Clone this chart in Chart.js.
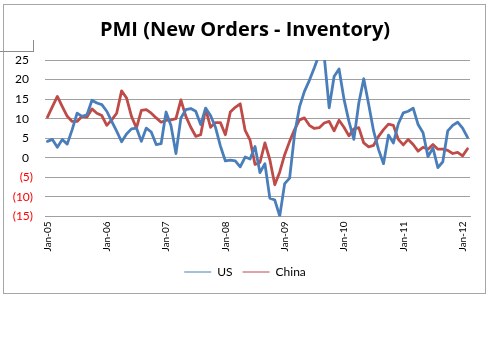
<!DOCTYPE html>
<html>
<head>
<meta charset="utf-8">
<script src="https://cdn.jsdelivr.net/npm/chart.js@4"></script>
<style>
  html, body { margin: 0; padding: 0; background: #fff; }
  #wrap { position: relative; width: 490px; height: 337px; }
  #frame { position: absolute; left: 3px; top: 4px; width: 481px; height: 288px; border: 1px solid #a6a6a6; }
  #mark { position: absolute; left: 0; top: 40px; width: 33px; height: 11px; border-right: 1px solid #8c8c8c; border-bottom: 1px solid #8c8c8c; }
  canvas { position: absolute; left: 0; top: 0; }
</style>
</head>
<body>
<div id="wrap">
  <div id="frame"></div>
  <div id="mark"></div>
  <canvas id="pmiChart" width="490" height="337"></canvas>
</div>
<script>
const months = ['Jan','Feb','Mar','Apr','May','Jun','Jul','Aug','Sep','Oct','Nov','Dec'];
const years = ['05','06','07','08','09','10','11','12'];
const seriesNames = ['US', 'China'];

// monthly, Jan-05 .. Feb-12
const usValues = [
  4.2, 4.7, 2.7, 4.7, 3.5, 7.2, 11.4, 10.6, 11.0, 14.7, 14.0, 13.6,
  11.9, 9.3, 6.8, 4.1, 6.1, 7.4, 7.6, 4.2, 7.6, 6.6, 3.4, 3.6,
  11.7, 8.2, 1.1, 10.2, 12.3, 12.6, 11.9, 8.5, 12.7, 10.8, 7.8, 3.0,
  -0.8, -0.6, -0.8, -2.3, 0.2, -0.3, 2.9, -3.8, -1.5, -10.3, -10.8, -14.9,
  -6.6, -5.2, 6.0, 13.0, 17.0, 19.8, 23.0, 26.5, 26.0, 12.8, 20.8, 22.7,
  15.0, 9.3, 4.7, 14.0, 20.2, 13.6, 6.8, 2.1, -1.5, 5.8, 3.8, 8.7,
  11.5, 11.9, 12.7, 8.5, 6.4, 0.3, 2.5, -2.5, -1.0, 6.9, 8.3, 9.1,
  7.6, 5.2
];
const chinaValues = [
  10.4, 13.1, 15.7, 13.1, 10.6, 9.3, 9.3, 10.6, 10.4, 12.5, 11.4, 10.8,
  8.3, 9.7, 11.4, 17.1, 15.3, 10.6, 7.6, 12.1, 12.3, 11.4, 10.2, 9.1,
  9.6, 9.7, 10.0, 14.8, 10.6, 7.8, 5.5, 5.9, 12.5, 7.8, 9.0, 9.0,
  5.9, 11.7, 12.9, 13.8, 7.0, 4.5, -1.7, -1.2, 3.8, -0.5, -6.9, -3.6,
  0.8, 4.2, 7.2, 9.7, 10.2, 8.3, 7.5, 7.7, 8.9, 9.3, 6.9, 9.6,
  7.8, 5.6, 7.4, 7.7, 3.8, 2.8, 3.2, 5.5, 7.2, 8.6, 8.3, 4.7,
  3.3, 4.7, 3.4, 1.7, 2.7, 2.2, 3.4, 2.2, 2.2, 1.9, 1.1, 1.4,
  0.5, 2.3
];

const labels = [];
years.forEach(y => months.forEach(m => labels.push(m + '-' + y)));
labels.length = usValues.length;

Chart.defaults.font.family = 'Lato';
Chart.defaults.color = '#000';

const ctx = document.getElementById('pmiChart').getContext('2d');
new Chart(ctx, {
  type: 'line',
  data: {
    labels: labels,
    datasets: [
      { label: seriesNames[0], data: usValues, borderColor: '#4a7ebb', backgroundColor: '#4a7ebb' },
      { label: seriesNames[1], data: chinaValues, borderColor: '#be4b48', backgroundColor: '#be4b48' }
    ]
  },
  options: {
    responsive: false,
    animation: false,
    events: [],
    elements: {
      line: { borderWidth: 2.8, tension: 0, borderJoinStyle: 'round', borderCapStyle: 'round' },
      point: { radius: 0 }
    },
    layout: { padding: { top: 8, left: 0, right: 0, bottom: 49 } },
    plugins: {
      title: {
        display: true,
        text: 'PMI (New Orders - Inventory)',
        font: { family: 'Open Sans', size: 20, weight: 'bold' },
        color: '#000',
        padding: { top: 10, bottom: 18 }
      },
      legend: {
        position: 'bottom',
        labels: {
          usePointStyle: true,
          pointStyle: 'line',
          pointStyleWidth: 27,
          padding: 10,
          font: { size: 12 },
          color: '#000'
        }
      },
      tooltip: { enabled: false }
    },
    scales: {
      x: {
        offset: true,
        grid: { display: false, drawTicks: false },
        border: { color: '#a0a0a0' },
        ticks: {
          autoSkip: false,
          minRotation: 90,
          maxRotation: 90,
          padding: 5,
          font: { size: 10 },
          callback: function(v, i) { return i % 12 === 0 ? labels[i] : ''; }
        },
        afterFit: function(scale) { scale.height = 39.5; }
      },
      y: {
        min: -15,
        max: 25,
        grid: { color: '#a0a0a0', drawTicks: false },
        border: { display: false },
        ticks: {
          stepSize: 5,
          padding: 12,
          font: { size: 12 },
          color: function(c) { return c.tick.value < 0 ? '#ff0000' : '#000'; },
          callback: function(v) { return v < 0 ? '(' + (-v) + ')' : v + '\u2004'; }
        },
        afterFit: function(scale) { scale.width = 45; }
      },
      spacer: {
        position: 'right',
        display: true,
        min: 0,
        max: 1,
        grid: { display: false, drawTicks: false },
        border: { display: false },
        ticks: { display: false },
        afterFit: function(scale) { scale.width = 20; }
      }
    }
  }
});
</script>
</body>
</html>
